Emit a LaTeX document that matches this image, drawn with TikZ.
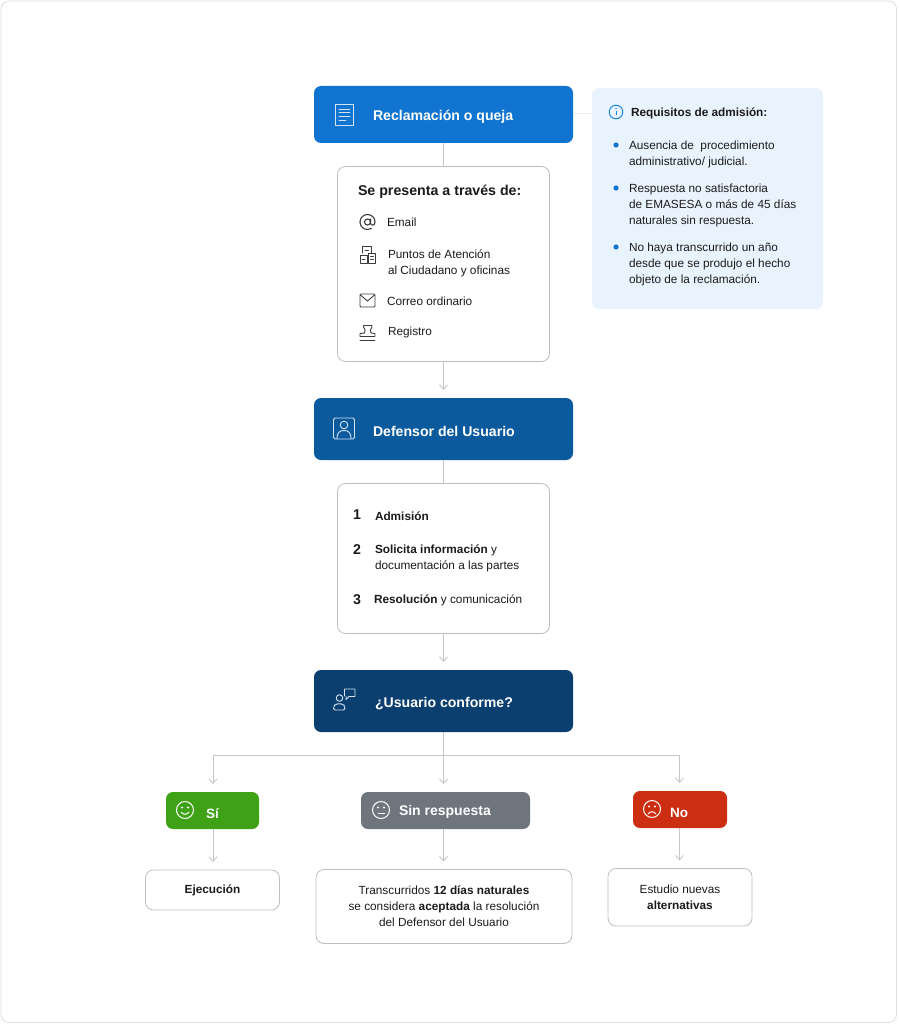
\documentclass[tikz,border=0pt]{standalone}
\usepackage{fontspec}
\setmainfont{Liberation Sans}
\usetikzlibrary{arrows.meta,calc}
\definecolor{azulA}{HTML}{1174D0}
\definecolor{azulB}{HTML}{0C5A9E}
\definecolor{azulC}{HTML}{0A3F70}
\definecolor{verde}{HTML}{3FA116}
\definecolor{gris}{HTML}{6E757C}
\definecolor{rojo}{HTML}{CB2E11}
\definecolor{infofill}{HTML}{E9F3FE}
\definecolor{borde}{HTML}{BDBFC1}
\definecolor{linea}{HTML}{C4C6C8}
\definecolor{texto}{HTML}{1B1B1B}
\definecolor{icono}{HTML}{3C3C3C}
\definecolor{iconoclaro}{HTML}{D5E4F3}
\definecolor{infoazul}{HTML}{1E88E5}
\newcommand{\fs}[1]{\fontsize{#1}{16}\selectfont}
\tikzset{
  x=1pt,y=-1pt,
  box/.style={rounded corners=7pt,minimum width=#1,inner sep=0pt,outer sep=0pt},
  hdr/.style={box=259pt,minimum height=#1,draw=none},
  wbox/.style={rounded corners=8pt,draw=borde,fill=white,line width=.8pt,inner sep=0pt,outer sep=0pt},
  tt/.style={text=texto,inner sep=0pt,outer sep=0pt,font=\fs{11.8},align=left,anchor=west,yshift=-.8pt},
  ttc/.style={text=texto,inner sep=0pt,outer sep=0pt,font=\fs{11.8},align=center},
  head/.style={text=white,inner sep=0pt,outer sep=0pt,font=\fs{14.1}\bfseries,anchor=west,yshift=-1.5pt},
  conn/.style={draw=linea,line width=.9pt},
  arr/.style={conn,-{Straight Barb[length=4.5pt,width=8pt,line width=.9pt]},shorten >=8pt},
  ico/.style={draw=icono,line width=.9pt,line join=round,line cap=round},
  icow/.style={draw=iconoclaro,line width=.9pt,line join=round,line cap=round},
}
\begin{document}
\begin{tikzpicture}
\useasboundingbox (0,0) rectangle (898,1024);
\fill[white] (0,0) rectangle (898,1024);
\draw[draw=black!12,line width=.8pt,rounded corners=8pt] (1,1) rectangle (896.5,1022.5);

% main boxes
\node[hdr=57pt,fill=azulA] (recl) at (443.5,114.5) {};
\node[wbox,minimum width=212pt,minimum height=195pt] (pres) at (443.5,264) {};
\node[box=231pt,minimum height=221pt,fill=infofill] (info) at (707.5,198.5) {};
\node[hdr=62pt,fill=azulB] (defe) at (443.5,429) {};
\node[wbox,minimum width=212pt,minimum height=150pt] (pasos) at (443.5,558.5) {};
\node[hdr=62pt,fill=azulC] (usua) at (443.5,701) {};
\node[box=93pt,minimum height=37pt,fill=verde] (si) at (212.5,810.5) {};
\node[box=169pt,minimum height=37pt,fill=gris] (sinr) at (445.5,810.5) {};
\node[box=94pt,minimum height=37pt,fill=rojo] (no) at (680,809.5) {};
\node[wbox,minimum width=134pt,minimum height=40pt] (ejec) at (212.5,890) {};
\node[wbox,minimum width=256pt,minimum height=74pt] (tran) at (444,906.5) {};
\node[wbox,minimum width=144pt,minimum height=57.5pt] (estu) at (680,897.25) {};

% connectors
\coordinate (j) at (443.5,755);
\coordinate (jl) at (213,755);
\coordinate (jr) at (679.5,755);
\draw[draw=black!8,line width=.8pt] (recl.east |- 0,113) -- (info.west |- 0,113);
\draw[conn] (recl) -- (pres);
\draw[arr] (pres) -- (defe);
\draw[conn] (defe) -- (pasos);
\draw[arr] (pasos) -- (usua);
\draw[conn] (usua.south) -- (j);
\draw[arr] (j) -- (j |- sinr.north);
\draw[arr] (j) -- (jl) -- (jl |- si.north);
\draw[arr] (j) -- (jr) -- (jr |- no.north);
\draw[arr] (jl |- si.south) -- (jl |- ejec.north);
\draw[arr] (j |- sinr.south) -- (j |- tran.north);
\draw[arr] (jr |- no.south) -- (jr |- estu.north);

% header texts
\node[head] (t1) at (373,115) {Reclamación o queja};
\node[head] (t2) at (373,430) {Defensor del Usuario};
\node[head] (t3) at (375,702) {¿Usuario conforme?};
\node[head,font=\fs{13.5}\bfseries] (t4) at (206,812) {Sí};
\node[head,font=\fs{14}\bfseries] (t5) at (399,810) {Sin respuesta};
\node[head,font=\fs{13.5}\bfseries] (t6) at (670,811) {No};

% channels
\node[tt,font=\fs{14.2}\bfseries] (t7) at (358,191) {Se presenta a través de:};
\node[tt] (t8) at (387,221.5) {Email};
\node[tt] (t9) at (388,263) {Puntos de Atención\\al Ciudadano y oficinas};
\node[tt] (t10) at (387,300) {Correo ordinario};
\node[tt] (t11) at (388,332) {Registro};

% requirements
\node[tt,font=\fs{11.8}\bfseries] (t12) at (631,113) {Requisitos de admisión:};
\node[tt] (t13) at (629,153.5) {Ausencia de\ \ procedimiento\\administrativo/ judicial.};
\node[tt] (t14) at (629,204.5) {Respuesta no satisfactoria\\de EMASESA o más de 45 días\\naturales sin respuesta.};
\node[tt] (t15) at (629,264) {No haya transcurrido un año\\desde que se produjo el hecho\\objeto de la reclamación.};
\fill[azulA] (616,145) circle (2.6pt) (616,188) circle (2.6pt) (616,247) circle (2.6pt);

% steps
\node[tt,font=\fs{14.2}\bfseries] (n1) at (353,514) {1};
\node[tt,font=\fs{14.2}\bfseries] (n2) at (353,549) {2};
\node[tt,font=\fs{14.2}\bfseries] (n3) at (353,599) {3};
\node[tt] (t16) at (375,515) {\textbf{Admisión}};
\node[tt] (t17) at (375,558) {\textbf{Solicita información} y\\documentación a las partes};
\node[tt] (t18) at (374,600) {\textbf{Resolución} y comunicación};

% results
\node[ttc] (t19) at (ejec.center) {\textbf{Ejecución}};
\node[ttc] (t20) at (tran.center) {Transcurridos \textbf{12 días naturales}\\se considera \textbf{aceptada} la resolución\\del Defensor del Usuario};
\node[ttc] (t21) at (estu.center) {Estudio nuevas\\\textbf{alternativas}};

% --- icons ---
% document
\draw[icow] (335,104.5) rectangle (353.5,125);
\draw[icow] (339,109) -- (350,109) (339,112.7) -- (350,112.7) (339,116.4) -- (350,116.4) (339,120) -- (346,120);
% user in frame
\draw[icow,rounded corners=1.5pt] (333.5,418) rectangle (354.5,439);
\draw[icow] (344,425) circle (3.8pt);
\draw[icow] (337,439) .. controls (337,432) and (340,430.5) .. (344,430.5) .. controls (348,430.5) and (351,432) .. (351,439);
% person and bubble
\draw[icow] (339.5,698) circle (3.3pt);
\draw[icow,rounded corners=2pt] (333.5,710) -- (333.5,706.5) -- (335.5,703.8) -- (343,703.8) -- (345,706.5) -- (345,710) -- cycle;
\draw[icow] (344.5,696) -- (344.5,689) -- (355,689) -- (355,696.5) -- (349,696.5) -- (346,699.5) -- (346,696);
% at sign
\draw[ico,line width=1.1pt] (367.5,222) circle (3pt);
\draw[ico,line width=1.1pt] (370.5,219) -- (370.5,223) .. controls (370.5,226) and (375,226) .. (375,222) arc[start angle=0,end angle=300,radius=7.5pt];
% building
\draw[ico] (362.5,253) -- (362.5,246.5) -- (371,246.5) -- (371,253);
\draw[ico] (365,250) -- (368.5,250);
\draw[ico] (360,263) rectangle (367,255) (368.5,263) rectangle (375.5,253);
\draw[ico] (362,259.5) -- (365,259.5) (370.5,256.5) -- (373.5,256.5) (370.5,259.5) -- (373.5,259.5);
% envelope
\draw[ico,rounded corners=1pt] (360,294) rectangle (375,307);
\draw[ico] (360.5,295) -- (367.5,301) -- (374.5,295);
% stamp
\draw[ico] (363.5,325.5) -- (372,325.5) -- (372,327) .. controls (370,329) and (370,331) .. (371,333) -- (375,333.5) -- (375,336.5) -- (360,336.5) -- (360,333.5) -- (364.5,333) .. controls (365.5,331) and (365.5,329) .. (363.5,327) -- cycle;
\draw[ico] (360,340) -- (375,340);
% info
\draw[draw=infoazul,line width=1pt] (616,112) circle (6.8pt);
\fill[infoazul] (616,108.7) circle (.8pt);
\draw[draw=infoazul,line width=1pt] (616,111) -- (616,115.5);
% smileys
\draw[draw=white,line width=1pt] (185,810) circle (8.5pt);
\fill[white] (182,807.5) circle (1.1pt) (188,807.5) circle (1.1pt);
\draw[draw=white,line width=1pt] (181,812) .. controls (183,815) and (187,815) .. (189,812);
\draw[draw=white,line width=1pt] (381,810) circle (8.5pt);
\fill[white] (378,807.5) circle (1.1pt) (384,807.5) circle (1.1pt);
\draw[draw=white,line width=1pt] (377.5,813.5) -- (384.5,813.5);
\draw[draw=white,line width=1pt] (652,809) circle (8.5pt);
\fill[white] (649,806.5) circle (1.1pt) (655,806.5) circle (1.1pt);
\draw[draw=white,line width=1pt] (648,814) .. controls (650,811) and (654,811) .. (656,814);
\end{tikzpicture}
\end{document}
